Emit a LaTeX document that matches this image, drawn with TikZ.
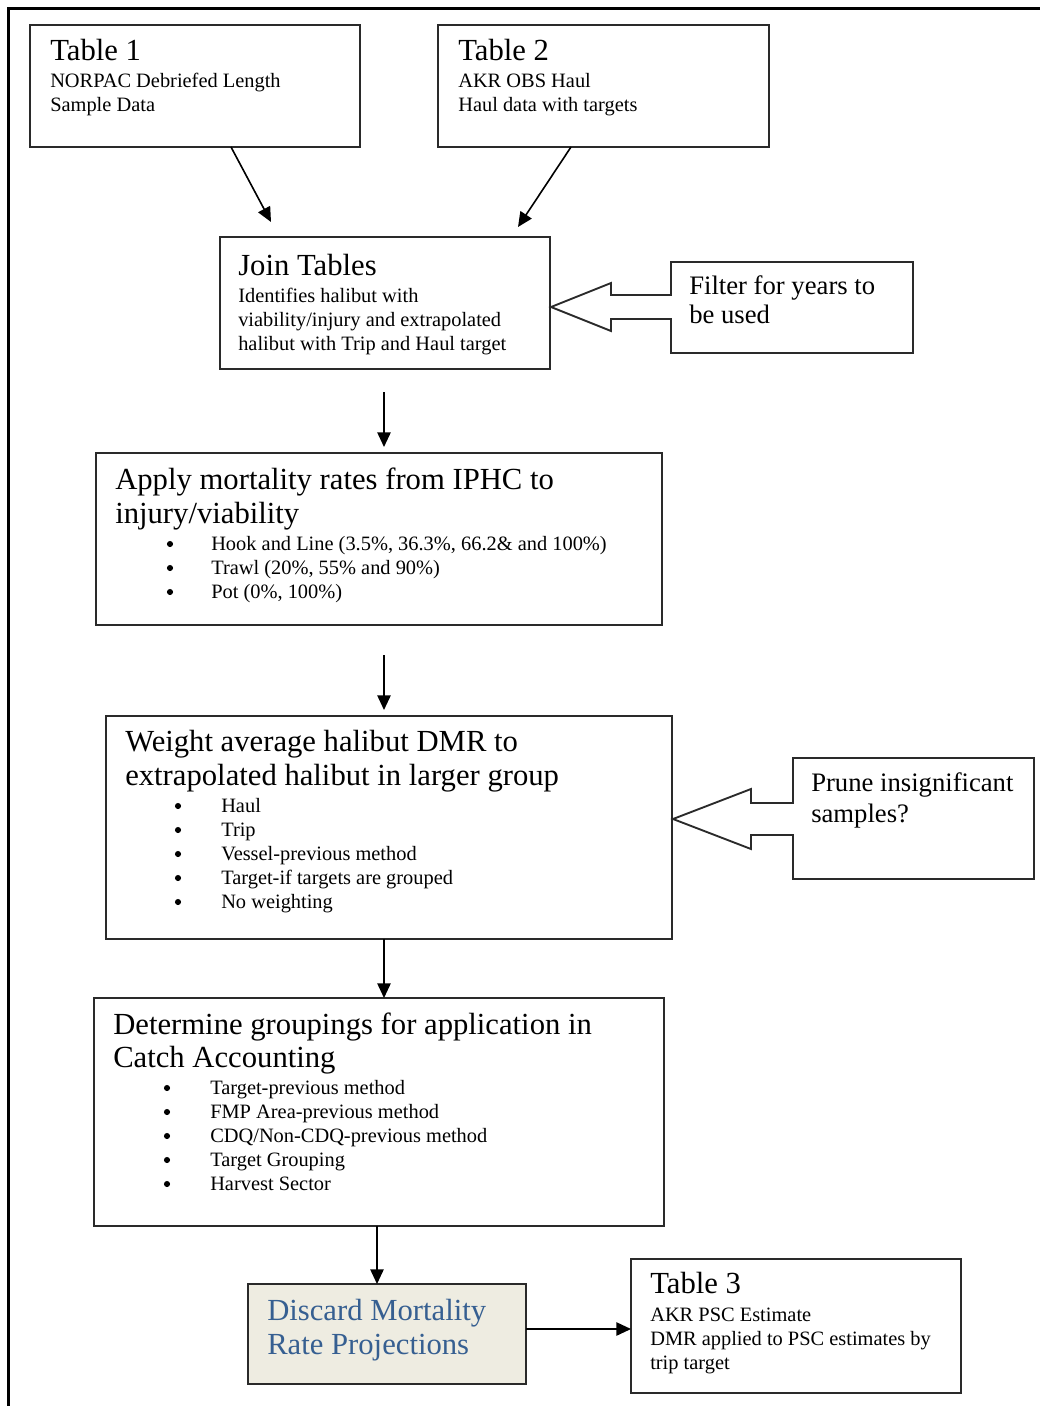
\documentclass[tikz,border=0pt]{standalone}
\usepackage{fontspec}
\setmainfont{Liberation Serif}
\usetikzlibrary{calc,arrows.meta}
\definecolor{discfill}{HTML}{EEECE1}
\definecolor{discblue}{RGB}{54,95,145}
\definecolor{edgec}{HTML}{2A2A2A}
\begin{document}
\begin{tikzpicture}[x=0.75pt,y=-0.75pt,
  box/.style={draw=edgec,line width=1.5pt,fill=white,anchor=north west,inner sep=0pt,outer sep=0pt},
  callout/.style={draw=edgec,line width=1.4pt,fill=white,line join=miter},
  ttl/.style={anchor=base west,inner sep=0pt,font=\fontsize{23}{25}\selectfont},
  med/.style={anchor=base west,inner sep=0pt,font=\fontsize{20}{24}\selectfont},
  sml/.style={anchor=base west,inner sep=0pt,font=\fontsize{15.3}{18}\selectfont},
  bul/.style={circle,fill=black,draw=none,inner sep=0pt,minimum size=4.6pt},
  arr/.style={draw=black,line width=1.2pt,-{Triangle[length=11pt,width=10pt]}}]
\useasboundingbox (0,0) rectangle (1040,1406);
\fill[white] (0,0) rectangle (1040,1406);
% outer frame (cropped)
\draw[line width=2.3pt] (8.5,1406) -- (8.5,8.5) -- (1040,8.5);

% boxes
\node[box,minimum width=330*0.75pt,minimum height=122*0.75pt] (t1) at (30,25) {};
\node[box,minimum width=331*0.75pt,minimum height=122*0.75pt] (t2) at (438,25) {};
\node[box,minimum width=330*0.75pt,minimum height=132*0.75pt] (join) at (220,237) {};
\node[box,minimum width=566*0.75pt,minimum height=172*0.75pt] (apply) at (96,453) {};
\node[box,minimum width=566*0.75pt,minimum height=223*0.75pt] (weight) at (106,716) {};
\node[box,minimum width=570*0.75pt,minimum height=228*0.75pt] (det) at (94,998) {};
\node[box,fill=discfill,minimum width=278*0.75pt,minimum height=100*0.75pt] (disc) at (248,1284) {};
\node[box,minimum width=330*0.75pt,minimum height=134*0.75pt] (t3) at (631,1259) {};

% callouts
\draw[callout] (671,262) -- (913,262) -- (913,353) -- (671,353) -- (671,319) -- (611,319)
  -- (611,331) -- (551,307) -- (611,283) -- (611,295) -- (671,295) -- cycle;
\draw[callout] (793,758) -- (1034,758) -- (1034,879) -- (793,879) -- (793,835) -- (751,835)
  -- (751,849) -- (673,819) -- (751,789) -- (751,803) -- (793,803) -- cycle;

% Table 1
\node[ttl] (t1a) at (50,60) {Table 1};
\node[sml] (t1b) at (50,87) {NORPAC Debriefed Length};
\node[sml] (t1c) at (50,111) {Sample Data};
% Table 2
\node[ttl] (t2a) at (458,60) {Table 2};
\node[sml] (t2b) at (458,87) {AKR OBS Haul};
\node[sml] (t2c) at (458,111) {Haul data with targets};
% Join
\node[ttl] (ja) at (238,275) {Join Tables};
\node[sml] (jb) at (238,302) {Identifies halibut with};
\node[sml] (jc) at (238,326) {viability/injury and extrapolated};
\node[sml] (jd) at (238,350) {halibut with Trip and Haul target};
% Filter
\node[med] (fa) at (689,294) {Filter for years to};
\node[med] (fb) at (689,323) {be used};
% Apply
\node[ttl] (aa) at (115,489) {Apply mortality rates from IPHC to};
\node[ttl] (ab) at (115,523) {injury/viability};
\node[bul] (ab1) at (170,544) {};
\node[bul] (ab2) at (170,568) {};
\node[bul] (ab3) at (170,592) {};
\node[sml] (ac) at (211,550) {Hook and Line (3.5\%, 36.3\%, 66.2\& and 100\%)};
\node[sml] (ad) at (211,574) {Trawl (20\%, 55\% and 90\%)};
\node[sml] (ae) at (211,598) {Pot (0\%, 100\%)};
% Weight
\node[ttl] (wa) at (125,751) {Weight average halibut DMR to};
\node[ttl] (wb) at (125,785) {extrapolated halibut in larger group};
\node[bul] (wb1) at (178,806) {};
\node[bul] (wb2) at (178,830) {};
\node[bul] (wb3) at (178,854) {};
\node[bul] (wb4) at (178,878) {};
\node[bul] (wb5) at (178,902) {};
\node[sml] (wc) at (221,812) {Haul};
\node[sml] (wd) at (221,836) {Trip};
\node[sml] (we) at (221,860) {Vessel-previous method};
\node[sml] (wf) at (221,884) {Target-if targets are grouped};
\node[sml] (wg) at (221,908) {No weighting};
% Prune
\node[med] (pa) at (811,791) {Prune insignificant};
\node[med] (pb) at (811,822) {samples?};
% Determine
\node[ttl] (da) at (113,1034) {Determine groupings for application in};
\node[ttl] (db) at (113,1067) {Catch Accounting};
\node[bul] (db1) at (167,1088) {};
\node[bul] (db2) at (167,1112) {};
\node[bul] (db3) at (167,1136) {};
\node[bul] (db4) at (167,1160) {};
\node[bul] (db5) at (167,1184) {};
\node[sml] (dc) at (210,1094) {Target-previous method};
\node[sml] (dd) at (210,1118) {FMP Area-previous method};
\node[sml] (de) at (210,1142) {CDQ/Non-CDQ-previous method};
\node[sml] (df) at (210,1166) {Target Grouping};
\node[sml] (dg) at (210,1190) {Harvest Sector};
% Discard
\node[ttl,text=discblue] (ca) at (267,1320) {Discard Mortality};
\node[ttl,text=discblue] (cb) at (267,1354) {Rate Projections};
% Table 3
\node[ttl] (t3a) at (650,1293) {Table 3};
\node[sml] (t3b) at (650,1321) {AKR PSC Estimate};
\node[sml] (t3c) at (650,1345) {DMR applied to PSC estimates by};
\node[sml] (t3d) at (650,1369) {trip target};

% connectors
\coordinate (dE) at ($(disc.north east)+(0,45)$);
\draw[arr] ($(t1.south west)+(201,0)$) -- ($(join.north west)+(51,-15)$);
\draw[arr] ($(t2.south west)+(133,0)$) -- ($(join.north west)+(298,-10)$);
\draw[arr] ($(join.south west)+(164,23)$) -- ($(join.south west |- apply.north)+(164,-6)$);
\draw[arr] ($(join.south west |- apply.south)+(164,30)$) -- ($(join.south west |- weight.north)+(164,-6)$);
\draw[arr] ($(join.south west |- weight.south)+(164,0)$) -- ($(join.south west |- det.north)+(164,0)$);
\draw[arr] ($(det.south west)+(283,0)$) -- ($(disc.north west)+(129,0)$);
\draw[arr] (dE) -- (dE -| t3.west);
\end{tikzpicture}
\end{document}
